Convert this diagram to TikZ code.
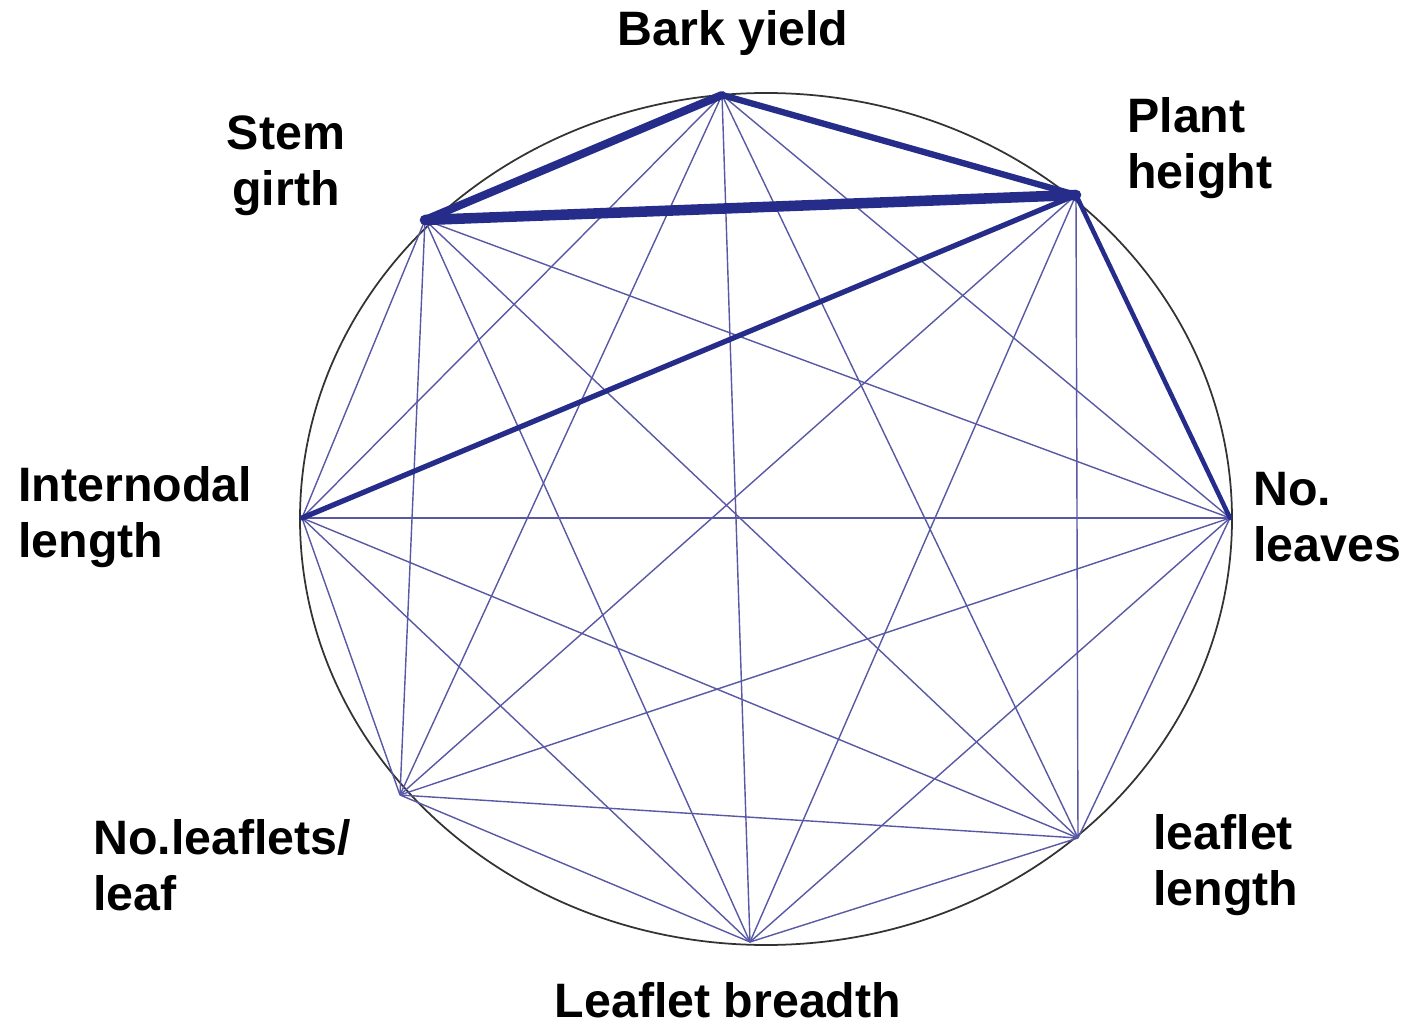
\documentclass[tikz,border=0pt]{standalone}
\usepackage{fontspec}
\setmainfont{Liberation Sans}
\definecolor{edge}{RGB}{88,88,165}
\definecolor{strong}{RGB}{38,44,138}
\tikzset{
  trait/.style={font=\fontsize{27.5}{32}\selectfont\bfseries,inner sep=0pt},
  link/.style={edge,line width=0.8pt},
  heavy/.style={strong,line cap=round}
}

\begin{document}
\begin{tikzpicture}[x=0.02cm,y=-0.02cm]
  \useasboundingbox (0,0) rectangle (1411,1027);
  \draw[black!80,line width=1pt] (766,519) ellipse (466 and 426);
  % traits on the circle
  \coordinate (bark) at (722,95);
  \coordinate (height) at (1076,195);
  \coordinate (girth) at (425,220);
  \coordinate (inter) at (302,518);
  \coordinate (leaves) at (1230,518);
  \coordinate (leaflets) at (400,795);
  \coordinate (llength) at (1078,838);
  \coordinate (breadth) at (750,942);
  % weak correlations
  \foreach \a/\b in {bark/inter,bark/leaves,bark/leaflets,bark/llength,bark/breadth,
      height/leaflets,height/llength,height/breadth,
      girth/inter,girth/leaves,girth/leaflets,girth/llength,girth/breadth,
      inter/leaves,inter/leaflets,inter/llength,inter/breadth,
      leaves/leaflets,leaves/llength,leaves/breadth,
      leaflets/llength,leaflets/breadth,llength/breadth}
    \draw[link] (\a) -- (\b);
  % strong correlations
  \draw[heavy,line width=6pt] (girth) -- (height);
  \draw[heavy,line width=4.6pt] (bark) -- (girth);
  \draw[heavy,line width=3.6pt] (bark) -- (height);
  \draw[heavy,line width=3pt] (height) -- (inter);
  \draw[heavy,line width=2.6pt] (height) -- (leaves);
  % labels
  \node[trait] (tbark) at (733,33) {Bark yield};
  \node[trait,align=center] (tgirth) at (286,166) {Stem\\girth};
  \node[trait,align=left,anchor=west] (theight) at (1127,148) {Plant\\height};
  \node[trait,align=left,anchor=west] (tinter) at (18,517) {Internodal\\length};
  \node[trait,align=left,anchor=west] (tleaves) at (1253,517) {No.\\leaves};
  \node[trait,align=left,anchor=west] (tleaflets) at (93,865) {No.leaflets/\\leaf};
  \node[trait,align=left,anchor=west] (tllength) at (1153,865) {leaflet\\length};
  \node[trait] (tbreadth) at (728,1000) {Leaflet breadth};
\end{tikzpicture}
\end{document}
